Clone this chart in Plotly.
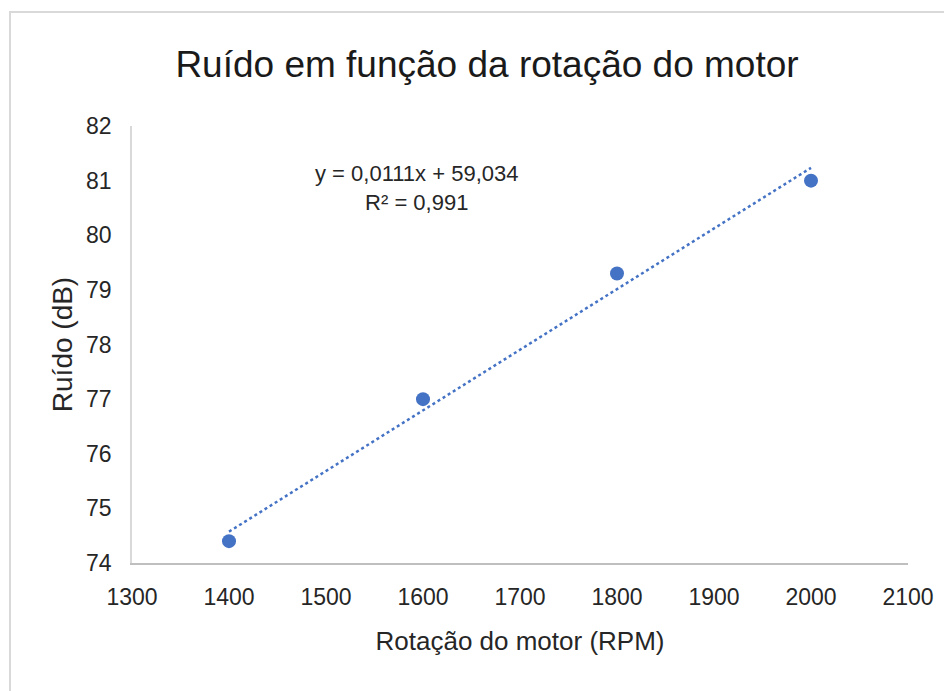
import plotly.graph_objects as go

# Data
rpm = [1400, 1600, 1800, 2000]
ruido_db = [74.4, 77.0, 79.3, 81.0]
trend_slope = 0.0111
trend_intercept = 59.034
r_squared = 0.991
trend_x = [min(rpm), max(rpm)]
trend_y = [trend_slope * x + trend_intercept for x in trend_x]

title_text = "Ruído em função da rotação do motor"
x_title = "Rotação do motor (RPM)"
y_title = "Ruído (dB)"
eq_text = "y = 0,0111x + 59,034<br>R² = 0,991"

BLUE = "#4472C4"
FONT = "Liberation Sans, Arial, sans-serif"
TXT = "#262626"

fig = go.Figure()
fig.add_trace(go.Scatter(
    x=trend_x, y=trend_y, mode="lines",
    line=dict(color=BLUE, width=2.5, dash="dot"),
    showlegend=False, hoverinfo="skip"))
fig.add_trace(go.Scatter(
    x=rpm, y=ruido_db, mode="markers",
    marker=dict(color=BLUE, size=14),
    showlegend=False))

fig.add_annotation(
    x=1593, y=80.87, xref="x", yref="y", text=eq_text, showarrow=False,
    align="center", font=dict(family=FONT, size=22, color=TXT))

# figure sits at an 8px page offset
W, H = 944, 683
L, R, T, B = 124, 44, 118, 128
pw, ph = W - L - R, H - T - B
def px_x(p): return (p - L) / pw
def px_y(p): return (H - B - p) / ph
fig.add_shape(type="rect", xref="paper", yref="paper",
              x0=px_x(2), x1=px_x(1000), y0=px_y(720), y1=px_y(4),
              line=dict(color="#d9d9d9", width=2), fillcolor="rgba(0,0,0,0)",
              layer="below")

fig.update_layout(
    width=W, height=H,
    margin=dict(l=L, r=R, t=T, b=B),
    paper_bgcolor="white", plot_bgcolor="white",
    font=dict(family=FONT, color=TXT),
    title=dict(text=title_text, x=479 / W, xref="container", xanchor="center",
               y=1 - 56 / H, yref="container", yanchor="middle",
               font=dict(family=FONT, size=37, color="#1a1a1a")),
    xaxis=dict(range=[1300, 2100], dtick=100, tick0=1300, showgrid=False,
               zeroline=False, showline=True, linecolor="#bfbfbf", linewidth=2,
               ticks="outside", ticklen=12, tickcolor="rgba(0,0,0,0)",
               tickfont=dict(size=23, color=TXT),
               title=dict(text=x_title, font=dict(size=26, color=TXT), standoff=23)),
    yaxis=dict(range=[74, 82], dtick=1, showgrid=False, zeroline=False,
               showline=True, linecolor="#d9d9d9", linewidth=1.5,
               ticks="outside", ticklen=14, tickcolor="rgba(0,0,0,0)",
               tickfont=dict(size=23, color=TXT),
               title=dict(text=y_title, font=dict(size=28, color=TXT), standoff=5)),
)

fig.write_html("out.html")
